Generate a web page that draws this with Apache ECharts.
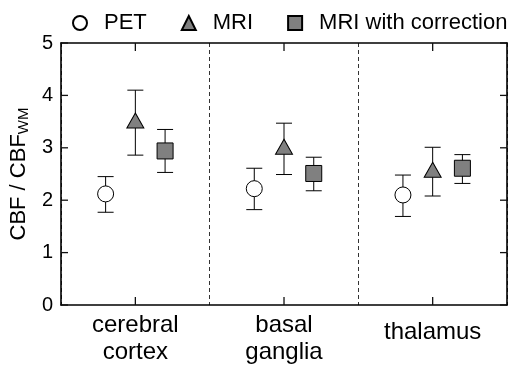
<!DOCTYPE html>
<html>
<head>
<meta charset="utf-8">
<script src="https://cdn.jsdelivr.net/npm/echarts@6/dist/echarts.min.js"></script>
<style>
  html, body { margin: 0; padding: 0; background: #fff; }
  #main { width: 508px; height: 366px; }
</style>
</head>
<body>
<div id="main"></div>
<script>
// regions on the x axis
var categories = ["cerebral\ncortex", "basal\nganglia", "thalamus"];
var yTicks = [0, 1, 2, 3, 4, 5];

// CBF / CBF_WM, mean and error bar ends
var petMean = [2.12, 2.22, 2.10];
var petLow = [1.77, 1.82, 1.69];
var petHigh = [2.45, 2.61, 2.48];

var mriMean = [3.52, 3.02, 2.58];
var mriLow = [2.86, 2.49, 2.08];
var mriHigh = [4.10, 3.47, 3.01];

var corrMean = [2.94, 2.51, 2.61];
var corrLow = [2.53, 2.18, 2.32];
var corrHigh = [3.35, 2.82, 2.87];

var FONT = "Liberation Sans, Arial, sans-serif";
var GREY = "#808080";
var TICK = { stroke: "#111", lineWidth: 1.3 };

// side-by-side shift inside each category (category units)
function xPos(i, shift) {
  return i + 0.5 + shift;
}

function points(mean, shift) {
  return mean.map(function (v, i) { return [xPos(i, shift), v]; });
}

function bars(low, high, shift) {
  return low.map(function (v, i) { return [xPos(i, shift), v, high[i]]; });
}

function renderBar(params, api) {
  var x = api.value(0);
  var lo = api.coord([x, api.value(1)]);
  var hi = api.coord([x, api.value(2)]);
  var half = 8;
  var st = { stroke: "#000", lineWidth: 1 };
  return {
    type: "group",
    children: [
      { type: "line", shape: { x1: lo[0], y1: lo[1], x2: hi[0], y2: hi[1] }, style: st },
      { type: "line", shape: { x1: lo[0] - half, y1: lo[1], x2: lo[0] + half, y2: lo[1] }, style: st },
      { type: "line", shape: { x1: hi[0] - half, y1: hi[1], x2: hi[0] + half, y2: hi[1] }, style: st }
    ]
  };
}

// inward ticks on the left and right frame, at each y tick value
function renderYTick(params, api) {
  var cs = params.coordSys;
  var p = api.coord([0, api.value(1)]);
  var len = 7;
  return {
    type: "group",
    children: [
      { type: "line", shape: { x1: cs.x, y1: p[1], x2: cs.x + len, y2: p[1] }, style: TICK },
      { type: "line", shape: { x1: cs.x + cs.width - len, y1: p[1], x2: cs.x + cs.width, y2: p[1] }, style: TICK }
    ]
  };
}

// inward ticks on the top and bottom frame, at each category centre
function renderXTick(params, api) {
  var cs = params.coordSys;
  var p = api.coord([api.value(0), 0]);
  var len = 8;
  return {
    type: "group",
    children: [
      { type: "line", shape: { x1: p[0], y1: cs.y, x2: p[0], y2: cs.y + len }, style: TICK },
      { type: "line", shape: { x1: p[0], y1: cs.y + cs.height - len, x2: p[0], y2: cs.y + cs.height }, style: TICK }
    ]
  };
}

function errSeries(low, high, shift) {
  return {
    type: "custom",
    xAxisIndex: 0,
    yAxisIndex: 0,
    renderItem: renderBar,
    data: bars(low, high, shift),
    z: 1,
    silent: true
  };
}

var chart = echarts.init(document.getElementById("main"));

var catAxis = {
  type: "category",
  data: categories,
  boundaryGap: true,
  axisLine: { show: true, onZero: false, lineStyle: { color: "#000", width: 1.6 } },
  axisTick: { show: false }
};

var valAxis = {
  type: "value",
  min: yTicks[0],
  max: yTicks[yTicks.length - 1],
  interval: 1,
  axisLine: { show: true, onZero: false, lineStyle: { color: "#000", width: 1.6 } },
  axisTick: { show: false },
  splitLine: { show: false }
};

chart.setOption({
  animation: false,
  textStyle: { fontFamily: FONT },
  grid: { left: 58, right: 1, top: 43, bottom: 59 },
  legend: {
    left: 72,
    top: 12,
    width: 436,
    padding: 0,
    itemWidth: 14,
    itemHeight: 14,
    itemGap: 34,
    textStyle: { fontSize: 22, color: "#000", fontFamily: FONT, padding: [0, 0, 0, 12] },
    data: ["PET", "MRI", "MRI with correction"]
  },
  xAxis: [
    { type: "value", min: 0, max: 3, show: false, position: "bottom", axisLine: { onZero: false } },
    Object.assign({}, catAxis, {
      position: "bottom",
      axisLabel: {
        interval: 0,
        color: "#000",
        fontSize: 24,
        lineHeight: 27,
        margin: 7,
        fontFamily: FONT,
        formatter: function (v) {
          return v.indexOf("\n") < 0 ? "{one|" + v + "}" : v;
        },
        rich: { one: { fontSize: 24, padding: [14, 0, 0, 0], fontFamily: FONT, color: "#000" } }
      },
      splitLine: { show: true, interval: 0, lineStyle: { color: "#333", width: 1, type: [4, 3] } }
    }),
    Object.assign({}, catAxis, {
      position: "top",
      axisLabel: { show: false, interval: 0 },
      splitLine: { show: false }
    })
  ],
  yAxis: [
    Object.assign({}, valAxis, {
      position: "left",
      name: "CBF / CBF{sub|WM}",
      nameLocation: "middle",
      nameRotate: 90,
      nameGap: 26,
      nameTextStyle: {
        fontSize: 22,
        color: "#000",
        fontFamily: FONT,
        rich: { sub: { fontSize: 15, color: "#000", fontFamily: FONT, padding: [9, 0, 0, 0] } }
      },
      axisLabel: { color: "#000", fontSize: 20, margin: 8, fontFamily: FONT }
    }),
    Object.assign({}, valAxis, {
      position: "right",
      axisLabel: { show: false }
    })
  ],
  series: [
    {
      type: "custom",
      xAxisIndex: 0,
      yAxisIndex: 0,
      renderItem: renderYTick,
      data: yTicks.map(function (v) { return [0, v]; }),
      silent: true,
      clip: false,
      z: 5
    },
    {
      type: "custom",
      xAxisIndex: 0,
      yAxisIndex: 0,
      renderItem: renderXTick,
      data: categories.map(function (c, i) { return [xPos(i, 0), 0]; }),
      silent: true,
      clip: false,
      z: 5
    },
    errSeries(petLow, petHigh, -0.2),
    errSeries(mriLow, mriHigh, 0),
    errSeries(corrLow, corrHigh, 0.2),
    {
      name: "PET",
      type: "scatter",
      xAxisIndex: 0,
      symbol: "circle",
      symbolSize: 16,
      itemStyle: { color: "#fff", borderColor: "#000", borderWidth: 1, opacity: 1 },
      data: points(petMean, -0.2),
      z: 3
    },
    {
      name: "MRI",
      type: "scatter",
      xAxisIndex: 0,
      symbol: "triangle",
      symbolSize: [17, 15],
      itemStyle: { color: GREY, borderColor: "#000", borderWidth: 1, opacity: 1 },
      data: points(mriMean, 0),
      z: 3
    },
    {
      name: "MRI with correction",
      type: "scatter",
      xAxisIndex: 0,
      symbol: "rect",
      symbolSize: 16,
      itemStyle: { color: GREY, borderColor: "#000", borderWidth: 1, opacity: 1 },
      data: points(corrMean, 0.2),
      z: 3
    }
  ]
});
</script>
</body>
</html>
